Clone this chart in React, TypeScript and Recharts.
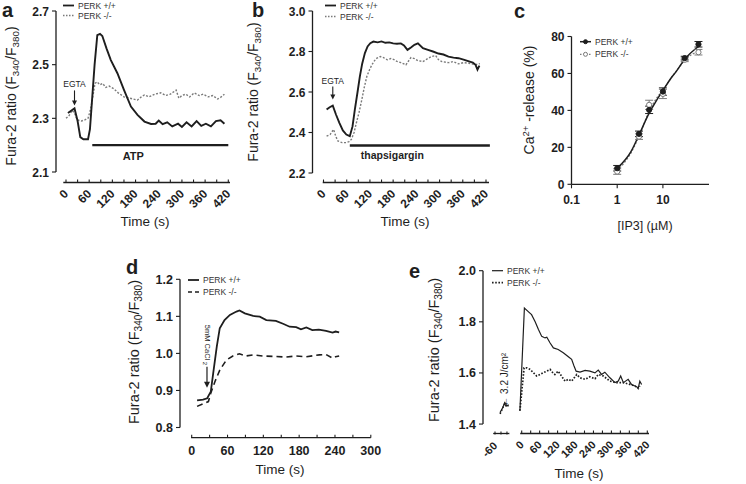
import React from "react";
import { LineChart, Line, XAxis, YAxis, ReferenceLine, ReferenceDot, ErrorBar } from "recharts";

const W = 746;
const H = 484;
const INK = "#1e1e1e";
const GREY = "#7a7a7a";
const SANS = "'Liberation Sans', Arial, Helvetica, sans-serif";

type Pt = [number, number];

// a: ATP-induced Ca2+ response (time s, ratio)
const atpWT: Pt[] = [
  [5, 2.32], [15, 2.33], [22, 2.337], [30, 2.29], [37, 2.23], [45, 2.222], [57, 2.222], [62, 2.26],
  [68, 2.38], [74, 2.5], [81, 2.61], [88, 2.615], [94, 2.607], [105, 2.56], [116, 2.517], [133, 2.468],
  [150, 2.406], [168, 2.344], [185, 2.313], [203, 2.288], [220, 2.279], [232, 2.28], [240, 2.292],
  [250, 2.278], [262, 2.285], [275, 2.27], [290, 2.28], [300, 2.268], [312, 2.285], [325, 2.27],
  [338, 2.29], [350, 2.272], [362, 2.28], [375, 2.27], [388, 2.29], [400, 2.293], [410, 2.28],
];
const atpKO: Pt[] = [
  [0, 2.3], [8, 2.31], [16, 2.33], [22, 2.32], [29, 2.294], [40, 2.29], [50, 2.295], [57, 2.3],
  [63, 2.33], [68, 2.368], [75, 2.43], [80, 2.436], [88, 2.425], [95, 2.43], [103, 2.415], [112, 2.42],
  [124, 2.41], [135, 2.395], [150, 2.38], [165, 2.375], [185, 2.368], [195, 2.38], [203, 2.387],
  [215, 2.38], [230, 2.39], [245, 2.395], [258, 2.385], [270, 2.39], [285, 2.405], [292, 2.375],
  [300, 2.385], [310, 2.39], [320, 2.38], [332, 2.395], [345, 2.385], [355, 2.39], [368, 2.38],
  [380, 2.385], [392, 2.372], [400, 2.378], [410, 2.39],
];
const atpBar = [68, 420];
const atpBarLevel = 2.2;

// b: thapsigargin
const tgWT: Pt[] = [
  [8, 2.513], [16, 2.525], [24, 2.533], [32, 2.49], [41, 2.448], [50, 2.41], [59, 2.39], [68, 2.382],
  [75, 2.43], [81, 2.513], [88, 2.6], [94, 2.677], [100, 2.74], [107, 2.792], [114, 2.825], [121, 2.841],
  [129, 2.849], [140, 2.845], [150, 2.85], [160, 2.843], [170, 2.845], [180, 2.84], [190, 2.838],
  [200, 2.84], [208, 2.83], [217, 2.808], [226, 2.82], [235, 2.833], [244, 2.84], [257, 2.816],
  [270, 2.808], [283, 2.8], [297, 2.79], [310, 2.785], [323, 2.775], [336, 2.77], [349, 2.767],
  [362, 2.76], [376, 2.751], [386, 2.745], [393, 2.734], [398, 2.71], [403, 2.73],
];
const tgKO: Pt[] = [
  [8, 2.382], [17, 2.39], [26, 2.415], [32, 2.38], [37, 2.358], [48, 2.35], [59, 2.35], [66, 2.355],
  [72, 2.366], [79, 2.4], [85, 2.448], [92, 2.5], [99, 2.562], [105, 2.62], [112, 2.677], [119, 2.71],
  [125, 2.734], [132, 2.755], [138, 2.767], [147, 2.775], [155, 2.77], [165, 2.759], [174, 2.765],
  [182, 2.76], [190, 2.751], [200, 2.745], [213, 2.734], [226, 2.77], [235, 2.765], [244, 2.755],
  [257, 2.75], [265, 2.76], [279, 2.775], [290, 2.78], [297, 2.76], [306, 2.75], [323, 2.745],
  [335, 2.75], [349, 2.739], [362, 2.745], [376, 2.742], [393, 2.735], [404, 2.74],
];
const tgBar = [68, 430];
const tgBarLevel = 2.336;

// c: IP3 dose response
const ip3Dose = [1, 3, 5, 10, 30, 60];
const ip3WT = [8.7, 27.3, 40.3, 50.2, 68.3, 75.8];
const ip3WTErr = [1.5, 1.5, 2, 2, 1, 1.5];
const ip3KO = [6.9, 25.8, 43, 48.9, 67.4, 71.5];
const ip3KOErr = [1.5, 1.5, 2.5, 2.5, 1, 1.5];
const ip3FitDose = [1, 2, 3, 5, 7, 10, 15, 20, 30, 60];
const ip3FitWT = [8.7, 17.7, 26.7, 38.5, 44.8, 50.7, 57.4, 61.4, 67.7, 74.6];
const ip3FitKO = [7.5, 17, 26, 39.5, 46, 51, 57.5, 61.5, 67.2, 72];

// d: CaCl2 add-back
const caWT: Pt[] = [
  [9, 0.873], [19, 0.875], [26, 0.879], [32, 0.897], [36, 0.946], [42, 1.018], [47, 1.068], [55, 1.09],
  [64, 1.104], [75, 1.113], [80, 1.116], [89, 1.108], [103, 1.101], [114, 1.099], [125, 1.09],
  [141, 1.088], [153, 1.08], [164, 1.072], [175, 1.071], [183, 1.065], [192, 1.07], [202, 1.063],
  [213, 1.064], [225, 1.061], [236, 1.056], [241, 1.059], [247, 1.057],
];
const caKO: Pt[] = [
  [9, 0.857], [19, 0.864], [28, 0.87], [32, 0.893], [39, 0.924], [47, 0.955], [58, 0.982], [69, 0.993],
  [80, 0.999], [91, 0.993], [103, 0.996], [119, 0.993], [136, 0.992], [158, 0.99], [175, 0.993],
  [192, 0.991], [214, 0.996], [225, 0.997], [236, 0.987], [241, 0.991], [247, 0.993],
];

// e: UV light (3.2 J/cm2), broken time axis
const uvPreWT: Pt[] = [[-43, 1.445], [-34, 1.465], [-27, 1.484], [-21, 1.471], [-14, 1.475]];
const uvPreKO: Pt[] = [[-43, 1.44], [-35, 1.46], [-28, 1.48], [-22, 1.468], [-15, 1.472]];
const uvWT: Pt[] = [
  [-6, 1.452], [9, 1.854], [22, 1.84], [33, 1.828], [45, 1.8], [56, 1.77], [67, 1.743], [78, 1.737],
  [84, 1.74], [95, 1.717], [106, 1.698], [122, 1.692], [139, 1.679], [156, 1.663], [167, 1.653],
  [175, 1.627], [182, 1.607], [195, 1.603], [212, 1.61], [228, 1.607], [245, 1.6], [256, 1.611],
  [267, 1.594], [278, 1.603], [295, 1.581], [312, 1.562], [323, 1.568], [331, 1.588], [340, 1.562],
  [356, 1.575], [367, 1.555], [379, 1.549], [390, 1.542], [395, 1.568], [401, 1.555],
];
const uvKO: Pt[] = [
  [-6, 1.452], [8, 1.62], [17, 1.62], [28, 1.614], [39, 1.601], [50, 1.588], [61, 1.594], [72, 1.601],
  [84, 1.607], [95, 1.614], [104, 1.601], [111, 1.594], [122, 1.607], [133, 1.588], [145, 1.568],
  [156, 1.575], [167, 1.568], [184, 1.594], [195, 1.581], [212, 1.575], [228, 1.585], [245, 1.577],
  [256, 1.594], [273, 1.588], [295, 1.568], [317, 1.562], [340, 1.562], [362, 1.555], [379, 1.549],
  [390, 1.539], [395, 1.549],
];

const ticks420 = [0, 30, 60, 90, 120, 150, 180, 210, 240, 270, 300, 330, 360, 390, 420];
const ticks300 = [0, 30, 60, 90, 120, 150, 180, 210, 240, 270, 300];

const rows = (pts: Pt[]) => pts.map(([t, v]) => ({ t, v }));

type Box = { l: number; r: number; t: number; b: number };
type Cal = [number, number, number, number];
// value at pixel p from two (pixel, value) reference points
const lerp = (p: number, [p0, v0, p1, v1]: Cal) => v0 + ((p - p0) * (v1 - v0)) / (p1 - p0);

// axes are 1px thick so recharts still draws their ticks
function Frame({ box, children }: { box: Box; children: React.ReactNode }) {
  return (
    <div style={{ position: "absolute", left: 0, top: 0 }}>
      <LineChart
        width={W}
        height={H}
        margin={{ top: box.t, right: W - box.r, bottom: H - box.b - 1, left: box.l - 1 }}
      >
        {children}
      </LineChart>
    </div>
  );
}

function slantTick(every: number, size = 12) {
  return (p: any) => {
    const { x, y, payload } = p;
    const v = payload.value as number;
    return (
      <g>
        <line x1={x} x2={x} y1={y} y2={y - 3} stroke={INK} strokeWidth={1.1} />
        {v % every === 0 && (
          <text
            transform={`translate(${x + 3},${y + 12}) rotate(-45)`}
            textAnchor="end"
            fontSize={size}
            fontWeight={700}
            fontFamily={SANS}
            fill={INK}
          >
            {v}
          </text>
        )}
      </g>
    );
  };
}

function flatTick(every: number, size: number, dy: number, up: boolean) {
  return (p: any) => {
    const { x, y, payload } = p;
    const v = payload.value as number;
    return (
      <g>
        <line x1={x} x2={x} y1={y} y2={up ? y - 3 : y + 4} stroke={INK} strokeWidth={1.1} />
        {(every === 0 || v % every === 0) && (
          <text x={x} y={y + dy} textAnchor="middle" fontSize={size} fontWeight={700} fontFamily={SANS} fill={INK}>
            {v}
          </text>
        )}
      </g>
    );
  };
}

function yTick(fmt: (v: number) => string, size = 12) {
  return (p: any) => {
    const { x, y, payload } = p;
    return (
      <g>
        <line x1={x} x2={x - 4} y1={y} y2={y} stroke={INK} strokeWidth={1.1} />
        <text x={x - 7} y={y + 4.5} textAnchor="end" fontSize={size} fontWeight={700} fontFamily={SANS} fill={INK}>
          {fmt(payload.value)}
        </text>
      </g>
    );
  };
}

const one = (v: number) => v.toFixed(1);

function DownArrow({ cx, cy, gap, len, label }: { cx: number; cy: number; gap: number; len: number; label: string }) {
  const tip = cy - gap;
  return (
    <g>
      <line x1={cx} x2={cx} y1={tip - len} y2={tip - 3} stroke={INK} strokeWidth={1.1} />
      <polygon points={`${cx - 2.5},${tip - 5} ${cx + 2.5},${tip - 5} ${cx},${tip}`} fill={INK} />
      <text x={cx} y={tip - len - 3} textAnchor="middle" fontSize={8.5} fontFamily={SANS} fill={INK}>
        {label}
      </text>
    </g>
  );
}

const axisBase = { allowDataOverflow: true, axisLine: false, tickLine: false, tickSize: 0, tickMargin: 0, interval: 0 } as const;

function PanelA() {
  const box = { l: 56, r: 230, t: 11, b: 182.5 };
  const xc: Cal = [66, 0, 228.3, 420];
  const yc: Cal = [11, 2.7, 172, 2.1];
  const dx = [lerp(box.l, xc), lerp(box.r, xc)];
  const dy = [lerp(box.b, yc), lerp(box.t, yc)];
  return (
    <Frame box={box}>
      <XAxis {...axisBase} type="number" dataKey="t" domain={dx} height={1} ticks={ticks420} tick={slantTick(60)} />
      <YAxis {...axisBase} type="number" domain={dy} width={1} ticks={[2.1, 2.3, 2.5, 2.7]} tick={yTick(one)} />
      <ReferenceLine ifOverflow="visible" segment={[{ x: dx[0], y: 2.1 }, { x: dx[0], y: 2.7 }]} stroke={INK} strokeWidth={1.3} />
      <ReferenceLine ifOverflow="visible" segment={[{ x: -7, y: dy[0] }, { x: dx[1], y: dy[0] }]} stroke={INK} strokeWidth={1.3} />
      <ReferenceLine ifOverflow="visible" segment={[{ x: atpBar[0], y: atpBarLevel }, { x: atpBar[1], y: atpBarLevel }]} stroke={INK} strokeWidth={2.4} />
      <ReferenceDot ifOverflow="visible" x={174} y={atpBarLevel} r={0}
        shape={(p: any) => (
          <text x={p.cx} y={p.cy + 15} textAnchor="middle" fontSize={11} fontWeight={700} fontFamily={SANS} fill={INK}>ATP</text>
        )} />
      <ReferenceDot ifOverflow="visible" x={22} y={2.337} r={0}
        shape={(p: any) => <DownArrow cx={p.cx} cy={p.cy} gap={3} len={15} label="EGTA" />} />
      <Line data={rows(atpKO)} dataKey="v" type="linear" dot={false} stroke={GREY} strokeWidth={1.4} strokeDasharray="2 1.6" isAnimationActive={false} />
      <Line data={rows(atpWT)} dataKey="v" type="linear" dot={false} stroke={INK} strokeWidth={1.9} isAnimationActive={false} />
    </Frame>
  );
}

function PanelB() {
  const box = { l: 312.5, r: 489, t: 11, b: 182.5 };
  const xc: Cal = [323.5, 0, 486, 420];
  const yc: Cal = [11, 3.0, 173, 2.2];
  const dx = [lerp(box.l, xc), lerp(box.r, xc)];
  const dy = [lerp(box.b, yc), lerp(box.t, yc)];
  return (
    <Frame box={box}>
      <XAxis {...axisBase} type="number" dataKey="t" domain={dx} height={1} ticks={ticks420} tick={slantTick(60)} />
      <YAxis {...axisBase} type="number" domain={dy} width={1} ticks={[2.2, 2.4, 2.6, 2.8, 3.0]} tick={yTick(one)} />
      <ReferenceLine ifOverflow="visible" segment={[{ x: dx[0], y: 2.2 }, { x: dx[0], y: 3.0 }]} stroke={INK} strokeWidth={1.3} />
      <ReferenceLine ifOverflow="visible" segment={[{ x: -2, y: dy[0] }, { x: dx[1], y: dy[0] }]} stroke={INK} strokeWidth={1.3} />
      <ReferenceLine ifOverflow="visible" segment={[{ x: tgBar[0], y: tgBarLevel }, { x: tgBar[1], y: tgBarLevel }]} stroke={INK} strokeWidth={2.4} />
      <ReferenceDot ifOverflow="visible" x={178} y={tgBarLevel} r={0}
        shape={(p: any) => (
          <text x={p.cx} y={p.cy + 14} textAnchor="middle" fontSize={10.5} fontWeight={700} fontFamily={SANS} fill={INK}>thapsigargin</text>
        )} />
      <ReferenceDot ifOverflow="visible" x={24} y={2.533} r={0}
        shape={(p: any) => <DownArrow cx={p.cx} cy={p.cy} gap={6} len={13} label="EGTA" />} />
      <Line data={rows(tgKO)} dataKey="v" type="linear" dot={false} stroke={GREY} strokeWidth={1.4} strokeDasharray="2 1.6" isAnimationActive={false} />
      <Line data={rows(tgWT)} dataKey="v" type="linear" dot={false} stroke={INK} strokeWidth={1.9} isAnimationActive={false} />
    </Frame>
  );
}

function PanelC() {
  const box = { l: 571.5, r: 709, t: 36.5, b: 184.3 };
  const decade = 45.7;
  const dx = [0.1, 0.1 * Math.pow(10, (box.r - box.l) / decade)];
  const wt = ip3Dose.map((x, i) => ({ t: x, v: ip3WT[i], e: ip3WTErr[i] }));
  const ko = ip3Dose.map((x, i) => ({ t: x, v: ip3KO[i], e: ip3KOErr[i] }));
  const fitWT = ip3FitDose.map((x, i) => ({ t: x, v: ip3FitWT[i] }));
  const fitKO = ip3FitDose.map((x, i) => ({ t: x, v: ip3FitKO[i] }));
  return (
    <Frame box={box}>
      <XAxis {...axisBase} type="number" dataKey="t" scale="log" domain={dx} height={1} ticks={[0.1, 1, 10]} tick={flatTick(0, 12, 20, false)} />
      <YAxis {...axisBase} type="number" domain={[0, 80]} width={1} ticks={[0, 20, 40, 60, 80]} tick={yTick((v) => String(v))} />
      <ReferenceLine ifOverflow="visible" segment={[{ x: dx[0], y: 0 }, { x: dx[0], y: 80 }]} stroke={INK} strokeWidth={1.3} />
      <ReferenceLine ifOverflow="visible" segment={[{ x: dx[0], y: 0 }, { x: dx[1], y: 0 }]} stroke={INK} strokeWidth={1.3} />
      <Line data={fitKO} dataKey="v" type="monotone" dot={false} stroke={GREY} strokeWidth={1.3} strokeDasharray="2 1.6" isAnimationActive={false} />
      <Line data={fitWT} dataKey="v" type="monotone" dot={false} stroke={INK} strokeWidth={1.5} isAnimationActive={false} />
      <Line data={ko} dataKey="v" stroke="none" dot={{ r: 2.6, fill: "#fff", stroke: GREY, strokeWidth: 1 }} isAnimationActive={false}>
        <ErrorBar dataKey="e" width={4} stroke={GREY} strokeWidth={1} direction="y" />
      </Line>
      <Line data={wt} dataKey="v" stroke="none" dot={{ r: 2.6, fill: INK, stroke: INK, strokeWidth: 1 }} isAnimationActive={false}>
        <ErrorBar dataKey="e" width={4} stroke={INK} strokeWidth={1} direction="y" />
      </Line>
    </Frame>
  );
}

function PanelD() {
  const box = { l: 180, r: 371.5, t: 279.3, b: 437.7 };
  const xc: Cal = [191.7, 0, 370.8, 300];
  const yc: Cal = [279.3, 1.2, 427.5, 0.8];
  const dx = [lerp(box.l, xc), lerp(box.r, xc)];
  const dy = [lerp(box.b, yc), lerp(box.t, yc)];
  return (
    <Frame box={box}>
      <XAxis {...axisBase} type="number" dataKey="t" domain={dx} height={1} ticks={ticks300} tick={flatTick(60, 12.5, 17, true)} />
      <YAxis {...axisBase} type="number" domain={dy} width={1} ticks={[0.8, 0.9, 1.0, 1.1, 1.2]} tick={yTick(one, 12.5)} />
      <ReferenceLine ifOverflow="visible" segment={[{ x: dx[0], y: 0.8 }, { x: dx[0], y: 1.2 }]} stroke={INK} strokeWidth={1.3} />
      <ReferenceLine ifOverflow="visible" segment={[{ x: -1, y: dy[0] }, { x: 300, y: dy[0] }]} stroke={INK} strokeWidth={1.3} />
      <ReferenceDot ifOverflow="visible" x={25.6} y={0.907} r={0}
        shape={(p: any) => (
          <g>
            <line x1={p.cx} x2={p.cx} y1={p.cy - 21} y2={p.cy - 4} stroke={INK} strokeWidth={1.2} />
            <polygon points={`${p.cx - 3},${p.cy - 6} ${p.cx + 3},${p.cy - 6} ${p.cx},${p.cy}`} fill={INK} />
            <text transform={`translate(${p.cx - 2},${p.cy - 63}) rotate(90)`} fontSize={7.5} fontFamily={SANS} fill={INK}>
              5mM CaCl<tspan fontSize={6} dx={1.5} dy={2}>2</tspan>
            </text>
          </g>
        )} />
      <Line data={rows(caKO)} dataKey="v" type="linear" dot={false} stroke={INK} strokeWidth={1.6} strokeDasharray="6 4" isAnimationActive={false} />
      <Line data={rows(caWT)} dataKey="v" type="linear" dot={false} stroke={INK} strokeWidth={1.8} isAnimationActive={false} />
    </Frame>
  );
}

function PanelE() {
  const box = { l: 483, r: 649, t: 270.7, b: 434.5 };
  const xc: Cal = [521.7, 0, 647.3, 420];
  const yc: Cal = [270.7, 2.0, 425, 1.4];
  const breakShift = 29.3;
  const dx = [lerp(box.l, xc), lerp(box.r, xc)];
  const dxPre = [dx[0] + breakShift, dx[1] + breakShift];
  const dy = [lerp(box.b, yc), lerp(box.t, yc)];
  return (
    <Frame box={box}>
      <XAxis {...axisBase} type="number" dataKey="t" domain={dx} height={1} ticks={ticks420} tick={slantTick(60, 11)} />
      <XAxis {...axisBase} xAxisId="pre" type="number" dataKey="t" domain={dxPre} height={1} ticks={[-60, -40, -20]} tick={slantTick(60, 11)} />
      <YAxis {...axisBase} type="number" domain={dy} width={1} ticks={[1.4, 1.6, 1.8, 2.0]} tick={yTick(one, 12.5)} />
      <ReferenceLine ifOverflow="visible" segment={[{ x: dx[0], y: 1.4 }, { x: dx[0], y: 2.0 }]} stroke={INK} strokeWidth={1.3} />
      <ReferenceLine ifOverflow="visible" segment={[{ x: -5, y: dy[0] }, { x: dx[1], y: dy[0] }]} stroke={INK} strokeWidth={1.3} />
      <ReferenceLine xAxisId="pre" ifOverflow="visible" segment={[{ x: -66, y: dy[0] }, { x: -12, y: dy[0] }]} stroke={INK} strokeWidth={1.3} />
      <ReferenceDot xAxisId="pre" ifOverflow="visible" x={-10} y={1.46} r={0}
        shape={(p: any) => (
          <text transform={`translate(${p.cx - 2},${p.cy - 2}) rotate(-90)`} fontSize={10} fontFamily={SANS} fill={INK}>
            ← 3.2 J/cm²
          </text>
        )} />
      <Line xAxisId="pre" data={rows(uvPreKO)} dataKey="v" type="linear" dot={false} stroke={INK} strokeWidth={1.6} strokeDasharray="1.6 1.6" isAnimationActive={false} />
      <Line xAxisId="pre" data={rows(uvPreWT)} dataKey="v" type="linear" dot={false} stroke={INK} strokeWidth={1.2} isAnimationActive={false} />
      <Line data={rows(uvKO)} dataKey="v" type="linear" dot={false} stroke={INK} strokeWidth={1.7} strokeDasharray="1.6 1.6" isAnimationActive={false} />
      <Line data={rows(uvWT)} dataKey="v" type="linear" dot={false} stroke={INK} strokeWidth={1.2} isAnimationActive={false} />
    </Frame>
  );
}

function Key({ x, y, text, dash, color, width, marker }: {
  x: number; y: number; text: string; dash?: string; color: string; width: number; marker?: "filled" | "open";
}) {
  return (
    <g>
      <line x1={x} x2={x + 11} y1={y} y2={y} stroke={color} strokeWidth={width} strokeDasharray={dash} />
      {marker && (
        <circle cx={x + 5.5} cy={y} r={2} fill={marker === "filled" ? INK : "#fff"} stroke={color} strokeWidth={1} />
      )}
      <text x={x + 15} y={y + 3} fontSize={8.5} fontFamily={SANS} fill="#333">{text}</text>
    </g>
  );
}

function FuraTitle({ x, y, size }: { x: number; y: number; size: number }) {
  const sub = size * 0.7;
  return (
    <text transform={`translate(${x},${y}) rotate(-90)`} textAnchor="middle" fontSize={size} fontFamily={SANS} fill={INK}>
      Fura-2 ratio (F<tspan fontSize={sub} dy={3}>340</tspan>
      <tspan dy={-3}>/F</tspan>
      <tspan fontSize={sub} dy={3}>380</tspan>
      <tspan dy={-3}>)</tspan>
    </text>
  );
}

function Overlay() {
  const letter = { fontSize: 20, fontWeight: 700, fontFamily: SANS, fill: INK } as const;
  const title = { fontSize: 13.5, fontFamily: SANS, fill: INK, textAnchor: "middle" } as const;
  return (
    <svg width={W} height={H} style={{ position: "absolute", left: 0, top: 0, pointerEvents: "none" }}>
      <text x={2} y={17} {...letter}>a</text>
      <text x={252} y={17} {...letter}>b</text>
      <text x={514} y={18} {...letter}>c</text>
      <text x={126} y={274} {...letter}>d</text>
      <text x={409} y={278} {...letter}>e</text>

      <FuraTitle x={16} y={96} size={14} />
      <FuraTitle x={258} y={92} size={14} />
      <FuraTitle x={139} y={352} size={14.5} />
      <FuraTitle x={439} y={350} size={14.5} />
      <text transform="translate(534,100) rotate(-90)" textAnchor="middle" fontSize={14} fontFamily={SANS} fill={INK}>
        Ca<tspan fontSize={9.5} dy={-5}>2+</tspan>
        <tspan dy={5}> -release (%)</tspan>
      </text>

      <text x={145} y={226} {...title}>Time (s)</text>
      <text x={405} y={226} {...title}>Time (s)</text>
      <text x={645} y={230} {...title} fontSize={12.5}>[IP3] (µM)</text>
      <text x={280} y={474} {...title}>Time (s)</text>
      <text x={579} y={478} {...title}>Time (s)</text>

      <Key x={63} y={5.5} text="PERK +/+" color={INK} width={1.8} />
      <Key x={63} y={15.5} text="PERK -/-" color={GREY} width={1.3} dash="1.5 1.5" />
      <Key x={325} y={5.5} text="PERK +/+" color={INK} width={1.8} />
      <Key x={325} y={16.5} text="PERK -/-" color={GREY} width={1.3} dash="1.5 1.5" />
      <Key x={580} y={41.7} text="PERK +/+" color={INK} width={1.5} marker="filled" />
      <Key x={580} y={54.3} text="PERK -/-" color={GREY} width={1.2} dash="1.5 1.5" marker="open" />
      <Key x={188} y={280} text="PERK +/+" color={INK} width={1.8} />
      <Key x={188} y={292} text="PERK -/-" color={INK} width={1.6} dash="4 3" />
      <Key x={492} y={270.7} text="PERK +/+" color={INK} width={1.2} />
      <Key x={492} y={282.7} text="PERK -/-" color={INK} width={1.7} dash="1.6 1.6" />
    </svg>
  );
}

export default function App() {
  return (
    <div style={{ position: "absolute", left: 0, top: 0, width: W, height: H, background: "#fff", overflow: "hidden" }}>
      <PanelA />
      <PanelB />
      <PanelC />
      <PanelD />
      <PanelE />
      <Overlay />
    </div>
  );
}
